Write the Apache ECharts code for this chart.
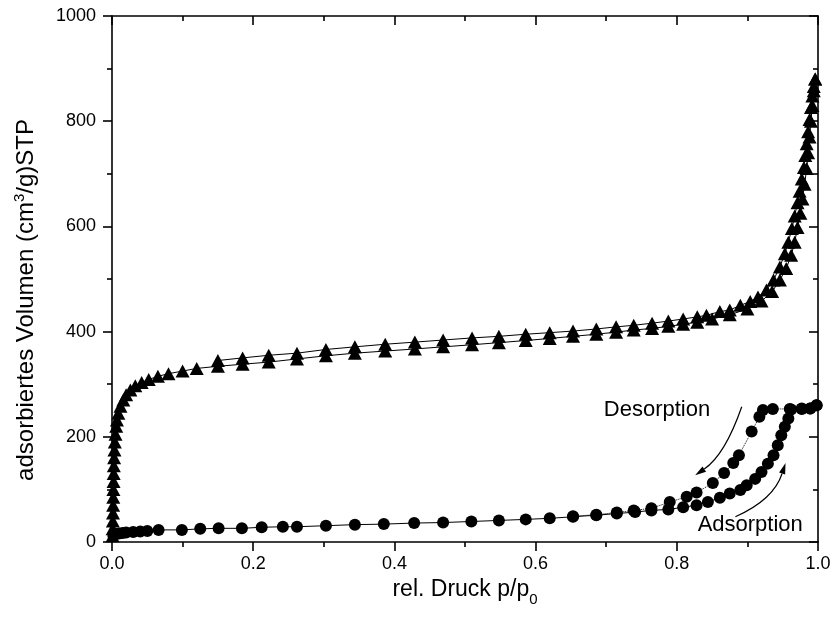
<!DOCTYPE html>
<html>
<head>
<meta charset="utf-8">
<script src="https://cdn.jsdelivr.net/npm/echarts@6/dist/echarts.min.js"></script>
<style>
html,body{margin:0;padding:0;background:#fff;}
#chart{width:835px;height:625px;}
</style>
</head>
<body>
<div id="chart"></div>
<script>
// ---- data ----
var triAdsX = [0.0008,0.001,0.0012,0.0014,0.0016,0.0018,0.002,0.0022,0.0024,0.0026,0.003,0.0035,0.004,0.005,0.006,
  0.007,0.009,0.012,0.016,0.02,0.026,0.033,0.042,0.052,0.065,0.08,0.1,0.12,0.15,0.185,0.222,0.262,0.303,0.344,0.387,
  0.429,0.469,0.51,0.548,0.586,0.62,0.653,0.686,0.714,0.739,0.765,0.788,0.809,0.829,0.85,0.875,0.9,0.92,0.935,0.946,
  0.955,0.962,0.967,0.971,0.975,0.978,0.981,0.984,0.986,0.988,0.99,0.992,0.994,0.996];
var triAdsY = [12,25,40,55,70,85,100,115,130,145,160,175,190,205,220,
  232,245,258,270,280,289,297,303,309,315,320,325,330,334,338,342,348,354,359,363,
  367,371,375,379,383,387,391,395,399,403,406,410,414,418,424,432,443,458,476,498,
  520,545,570,598,625,652,680,710,740,770,800,830,858,880];
var triDesX = [0.996,0.994,0.992,0.99,0.988,0.986,0.984,0.982,0.98,0.977,0.974,0.971,0.967,0.963,0.958,0.953,0.946,
  0.937,0.927,0.915,0.904,0.89,0.875,0.861,0.842,0.829,0.809,0.788,0.765,0.739,0.714,0.686,0.653,0.62,0.586,0.548,
  0.51,0.469,0.429,0.387,0.344,0.303,0.262,0.222,0.185,0.15];
var triDesY = [880,866,848,826,803,780,757,735,712,690,667,645,620,596,570,548,523,
  498,479,466,457,450,441,438,431,428,424,420,416,412,409,405,401,398,395,391,
  388,384,380,376,371,366,359,355,350,345];
var cirAdsX = [0.002,0.005,0.01,0.015,0.02,0.03,0.04,0.05,0.066,0.099,0.125,0.151,0.184,0.212,0.242,0.262,0.303,
  0.344,0.385,0.428,0.469,0.509,0.548,0.586,0.62,0.653,0.686,0.715,0.741,0.764,0.788,0.809,0.828,0.844,0.861,0.875,
  0.89,0.899,0.911,0.92,0.929,0.937,0.943,0.948,0.953,0.958,0.962,0.977,0.989,0.998];
var cirAdsY = [12,15,16,17,18,19,20,21,23,23,25,26,26,28,29,29,31,
  33,34,36,37,39,41,43,45,48,51,54,57,60,62,66,70,76,84,92,
  99,108,120,133,149,165,184,203,219,235,252,253,254,260];
var cirDesX = [0.998,0.989,0.977,0.96,0.936,0.922,0.917,0.906,0.888,0.88,0.867,0.851,0.828,0.814,0.79,0.764,0.739,
  0.715,0.686,0.653];
var cirDesY = [260,254,254,253,253,251,238,210,165,150,131,112,94,86,76,64,60,
  56,52,49];
var xTicks = [0, 0.2, 0.4, 0.6, 0.8, 1.0];
var yTicks = [0, 200, 400, 600, 800, 1000];
// annotation anchors in data coordinates
var desText = {x: 0.772, y: 251, text: 'Desorption'};
var adsText = {x: 0.904, y: 32, text: 'Adsorption'};
var desArrow = {from: [0.892, 257], ctrl: [0.868, 165], to: [0.826, 127]};
var adsArrow = {from: [0.883, 48], ctrl: [0.937, 80], to: [0.954, 150]};

function pairs(xs, ys){ return xs.map(function(x,i){ return [x, ys[i]]; }); }

var FONT = 'Arial, "Liberation Sans", sans-serif';
var chart = echarts.init(document.getElementById('chart'), null, {renderer:'canvas'});

function baseX(pos, showLabel, inside){
  return {
    type:'value', position: pos, min:0, max:1, interval:0.2,
    axisLine:{show:true, onZero:false, lineStyle:{color:'#000', width:1.6}},
    axisTick:{show:true, inside:inside, length:9, lineStyle:{color:'#000', width:1.6}},
    minorTick:{show:true, splitNumber:2, length:5, lineStyle:{color:'#000', width:1.6}},
    splitLine:{show:false}, minorSplitLine:{show:false},
    axisLabel:{show:showLabel, color:'#000', fontSize:18, fontFamily:FONT, margin:13,
      formatter:function(v){ return v.toFixed(1); }}
  };
}
function baseY(pos, showLabel, inside){
  return {
    type:'value', position: pos, min:0, max:1000, interval:200,
    axisLine:{show:true, onZero:false, lineStyle:{color:'#000', width:1.6}},
    axisTick:{show:true, inside:inside, length:9, lineStyle:{color:'#000', width:1.6}},
    minorTick:{show:true, splitNumber:2, length:5, lineStyle:{color:'#000', width:1.6}},
    splitLine:{show:false}, minorSplitLine:{show:false},
    axisLabel:{show:showLabel, color:'#000', fontSize:18, fontFamily:FONT, margin:16,
      formatter:function(v){ return String(v); }}
  };
}

var xMain = baseX('bottom', true, false);
xMain.name = '{a|rel. Druck p/p}{s|0}';
xMain.nameLocation = 'middle';
xMain.nameGap = 22;
xMain.nameTextStyle = {rich:{
  a:{fontSize:23, fontFamily:FONT, color:'#000', lineHeight:28},
  s:{fontSize:15, fontFamily:FONT, color:'#000', verticalAlign:'bottom', lineHeight:36}
}};
var yMain = baseY('left', true, false);

function lineSeries(name, data, symbol, size, lineType){
  return {
    name:name, type:'line', data:data, xAxisIndex:0, yAxisIndex:0,
    symbol:symbol, symbolSize:size, showSymbol:true,
    itemStyle:{color:'#000', borderColor:'#000', borderWidth:0},
    lineStyle:{color:'#000', width:1, type:lineType},
    animation:false, silent:true
  };
}

chart.setOption({
  backgroundColor:'#fff',
  animation:false,
  grid:{left:112, right:17, top:16, bottom:83, containLabel:false},
  xAxis:[xMain, baseX('top', false, true)],
  yAxis:[yMain, baseY('right', false, true)],
  series:[
    lineSeries('triAds', pairs(triAdsX, triAdsY), 'triangle', [14,13], 'solid'),
    lineSeries('triDes', pairs(triDesX, triDesY), 'triangle', [14,13], 'solid'),
    lineSeries('cirAds', pairs(cirAdsX, cirAdsY), 'circle', 12, 'solid'),
    lineSeries('cirDes', pairs(cirDesX, cirDesY), 'circle', 12, 'dotted')
  ]
});

function px(p){ return chart.convertToPixel({xAxisIndex:0, yAxisIndex:0}, p); }
function arrow(a){
  var s = px(a.from), c = px(a.ctrl), e = px(a.to);
  var dx = e[0]-c[0], dy = e[1]-c[1], L = Math.sqrt(dx*dx+dy*dy);
  var ux = dx/L, uy = dy/L, hl = 11, hw = 3.2;
  var bx = e[0]-ux*hl, by = e[1]-uy*hl;
  return [
    {type:'bezierCurve', shape:{x1:s[0], y1:s[1], cpx1:c[0], cpy1:c[1], x2:bx, y2:by},
      style:{stroke:'#000', lineWidth:1.2, fill:null}},
    {type:'polygon', shape:{points:[[e[0],e[1]],[bx-uy*hw, by+ux*hw],[bx+uy*hw, by-ux*hw]]},
      style:{fill:'#000'}}
  ];
}
function label(t){
  var p = px([t.x, t.y]);
  return {type:'text', x:p[0], y:p[1], style:{text:t.text, fontSize:22, fontFamily:FONT, fill:'#000',
    align:'center', verticalAlign:'middle'}};
}
var yTitle = {
  type:'text', x:26, y:300, rotation:Math.PI/2,
  style:{
    text:'{a|adsorbiertes Volumen (cm}{s|3}{a|/g)STP}',
    align:'center', verticalAlign:'middle',
    rich:{
      a:{fontSize:24, fontFamily:FONT, fill:'#000', lineHeight:28},
      s:{fontSize:15, fontFamily:FONT, fill:'#000', verticalAlign:'top', lineHeight:16}
    }
  }
};
chart.setOption({graphic:[yTitle, label(desText), label(adsText)].concat(arrow(desArrow), arrow(adsArrow))});
</script>
</body>
</html>
